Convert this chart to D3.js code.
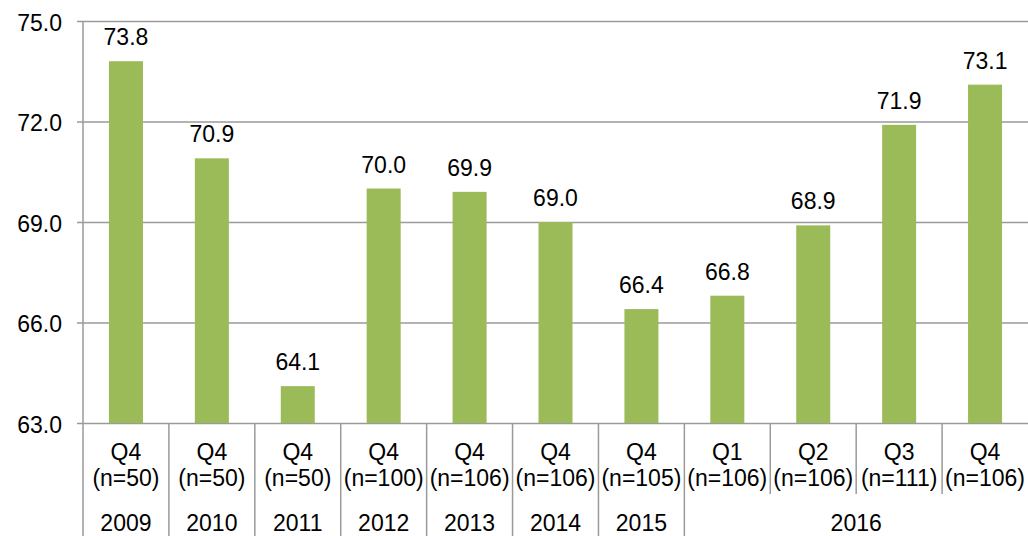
<!DOCTYPE html>
<html>
<head>
<meta charset="utf-8">
<script src="https://cdn.jsdelivr.net/npm/d3@7"></script>
<style>
  html, body { margin: 0; padding: 0; background: #fff; }
  svg { display: block; }
  text { font-family: "Liberation Sans", Arial, sans-serif; fill: #000; }
</style>
</head>
<body>
<svg id="chart" width="1028" height="536"></svg>
<script>
// Quarterly scores with sample sizes
const quarters = ["Q4", "Q4", "Q4", "Q4", "Q4", "Q4", "Q4", "Q1", "Q2", "Q3", "Q4"];
const sampleSizes = ["(n=50)", "(n=50)", "(n=50)", "(n=100)", "(n=106)", "(n=106)", "(n=105)", "(n=106)", "(n=106)", "(n=111)", "(n=106)"];
const years = ["2009", "2010", "2011", "2012", "2013", "2014", "2015", "2016", "2016", "2016", "2016"];
const scores = [73.8, 70.9, 64.1, 70.0, 69.9, 69.0, 66.4, 66.8, 68.9, 71.9, 73.1];
const yTicks = [63, 66, 69, 72, 75];

const svg = d3.select("#chart");
const plotLeft = 83, plotRight = 1028, plotTop = 21, plotBottom = 423, svgH = 536;
const gridColor = "#9a9a9a";
const fontSize = 23;

const idx = d3.range(scores.length);
const x = d3.scaleBand().domain(idx).range([plotLeft, plotRight]).paddingInner(0).paddingOuter(0);
const y = d3.scaleLinear().domain([63, 75]).range([plotBottom, plotTop]);

function label(parent, tx, ty, str, anchor) {
  return parent.append("text")
    .attr("x", tx).attr("y", ty)
    .attr("text-anchor", anchor)
    .attr("font-size", fontSize)
    .text(str);
}

// Horizontal gridlines with short ticks to the left of the axis
const yAxis = d3.axisLeft(y).tickValues(yTicks).tickFormat(d3.format(".1f"))
  .tickSize(-(plotRight - plotLeft));
const gy = svg.append("g").attr("transform", `translate(${plotLeft},0)`).call(yAxis);
gy.select(".domain").remove();
gy.selectAll(".tick line").attr("stroke", gridColor).attr("stroke-width", 1.5).attr("x1", -6);
gy.selectAll(".tick text").remove();
gy.selectAll(".tick").each(function (d) {
  label(d3.select(this), -21, 9, d3.format(".1f")(d), "end");
});

// Bars
const barW = 34;
svg.append("g").selectAll("rect").data(idx).join("rect")
  .attr("x", i => x(i) + x.bandwidth() / 2 - barW / 2)
  .attr("y", i => y(scores[i]))
  .attr("width", barW)
  .attr("height", i => y(63) - y(scores[i]))
  .attr("fill", "#9bbb59");

// Value labels
const vals = svg.append("g");
idx.forEach(i => {
  label(vals, x(i) + x.bandwidth() / 2, y(scores[i]) - 16, scores[i].toFixed(1), "middle");
});

// Vertical axis line
svg.append("line").attr("x1", plotLeft).attr("x2", plotLeft).attr("y1", plotTop).attr("y2", svgH)
  .attr("stroke", gridColor).attr("stroke-width", 1.5);

// Category separators: full height between years, shorter within a year
const innerBottom = 494;
idx.slice(1).forEach(i => {
  const sameYear = years[i] === years[i - 1];
  svg.append("line")
    .attr("x1", x(i)).attr("x2", x(i))
    .attr("y1", plotBottom).attr("y2", sameYear ? innerBottom : svgH)
    .attr("stroke", gridColor).attr("stroke-width", 1.5);
});

// Quarter and sample size labels
const cat = svg.append("g");
idx.forEach(i => {
  const cx = x(i) + x.bandwidth() / 2;
  label(cat, cx, 460, quarters[i], "middle");
  label(cat, cx, 485.5, sampleSizes[i], "middle");
});

// Year labels, centred across their quarters
const yearGroups = d3.groups(idx, i => years[i]);
yearGroups.forEach(([yr, members]) => {
  const x0 = x(members[0]);
  const x1 = x(members[members.length - 1]) + x.bandwidth();
  label(svg, (x0 + x1) / 2, 530.5, yr, "middle");
});
</script>
</body>
</html>
